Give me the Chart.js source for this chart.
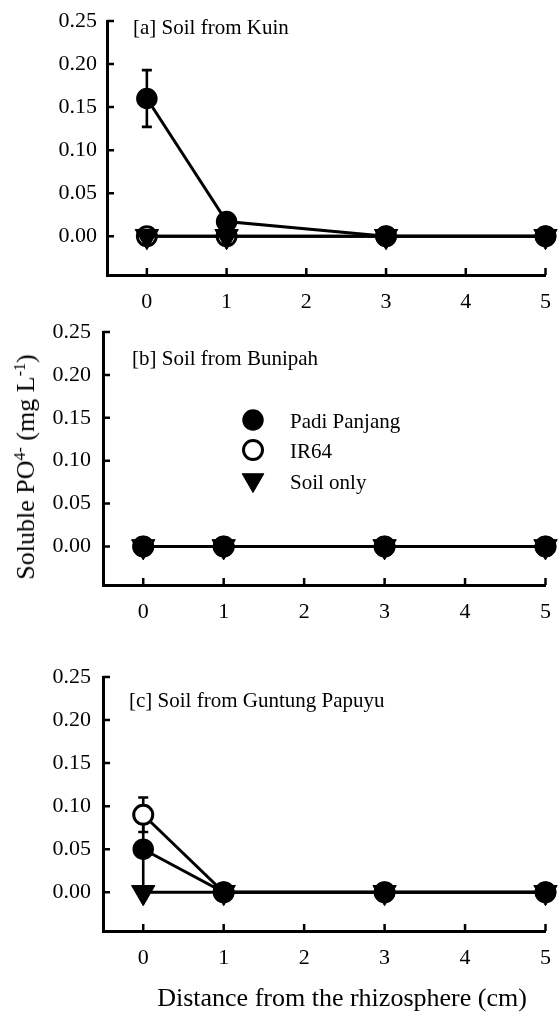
<!DOCTYPE html>
<html><head><meta charset="utf-8">
<script src="https://cdn.jsdelivr.net/npm/chart.js"></script>
<style>
html,body{margin:0;padding:0;background:#fff;}
body{width:560px;height:1012px;position:relative;overflow:hidden;font-family:"Liberation Serif","Times New Roman",serif;color:#000;}
canvas{position:absolute;left:0;}
#ytitle{position:absolute;left:26px;top:467px;transform:translate(-50%,-50%) rotate(-90deg);white-space:nowrap;font-size:26px;line-height:1;}
#xtitle{position:absolute;left:342px;top:998px;transform:translate(-50%,-50%);white-space:nowrap;font-size:26px;line-height:1;}
sup{font-size:0.62em;vertical-align:0.55em;line-height:0;}
</style></head>
<body>
<canvas id="cA" width="560" height="330" style="top:0px"></canvas>
<canvas id="cB" width="560" height="330" style="top:310px"></canvas>
<canvas id="cC" width="560" height="330" style="top:655px"></canvas>
<div id="ytitle">Soluble PO<sup>4-</sup> (mg L<sup>-1</sup>)</div>
<div id="xtitle">Distance from the rhizosphere (cm)</div>
<script>
// ---- data ----
const xValues = [0, 1, 3, 5];
const xTickValues = [0, 1, 2, 3, 4, 5];
const xTickLabels = ['0', '1', '2', '3', '4', '5'];
const yTickValues = [0, 0.05, 0.10, 0.15, 0.20, 0.25];
const yTickLabels = ['0.00', '0.05', '0.10', '0.15', '0.20', '0.25'];
const seriesNames = ['Padi Panjang', 'IR64', 'Soil only'];
const panelTitles = ['[a] Soil from Kuin', '[b] Soil from Bunipah', '[c] Soil from Guntung Papuyu'];

const kuinPadi = [0.160, 0.017, 0, 0];
const kuinPadiErr = [0.033, 0, 0, 0];
const kuinIR64 = [0, 0, 0, 0];
const kuinIR64Err = [0, 0, 0, 0];
const kuinSoil = [0, 0, 0, 0];
const kuinSoilErr = [0, 0, 0, 0];

const bunipahPadi = [0, 0, 0, 0];
const bunipahPadiErr = [0, 0, 0, 0];
const bunipahIR64 = [0, 0, 0, 0];
const bunipahIR64Err = [0, 0, 0, 0];
const bunipahSoil = [0, 0, 0, 0];
const bunipahSoilErr = [0, 0, 0, 0];

const guntungPadi = [0.050, 0, 0, 0];
const guntungPadiErr = [0.050, 0, 0, 0];
const guntungIR64 = [0.090, 0, 0, 0];
const guntungIR64Err = [0.020, 0, 0, 0];
const guntungSoil = [0, 0, 0, 0];
const guntungSoilErr = [0, 0, 0, 0];

// ---- styles / layout ----
const FONT = '"Liberation Serif", "Times New Roman", serif';
const markerStyles = [
  {pointStyle: 'circle', radius: 10, rotation: 0, fill: '#000', bw: 1.5, order: 2},
  {pointStyle: 'circle', radius: 9.5, rotation: 0, fill: '#fff', bw: 3, order: 3},
  {pointStyle: 'triangle', radius: 13.5, rotation: 180, fill: '#000', bw: 1, order: 1}
];
const legendMarkerRadius = [10, 9.5, 12.5];
const CANVAS_H = 330, YW = 80, XH = 45;

function drawMarker(ctx, st, r, x, y) {
  ctx.save();
  ctx.fillStyle = st.fill; ctx.strokeStyle = '#000'; ctx.lineWidth = st.bw;
  ctx.beginPath();
  if (st.pointStyle === 'circle') {
    ctx.arc(x, y, r, 0, Math.PI * 2);
  } else {
    for (let k = 0; k < 3; k++) {
      const a = (st.rotation * Math.PI / 180) - Math.PI / 2 + k * 2 * Math.PI / 3;
      const px = x + Math.cos(a) * r, py = y + Math.sin(a) * r;
      if (k === 0) ctx.moveTo(px, py); else ctx.lineTo(px, py);
    }
    ctx.closePath();
  }
  ctx.fill(); ctx.stroke();
  ctx.restore();
}

const extrasPlugin = {
  id: 'panelExtras',
  beforeDatasetsDraw(chart) {
    const ctx = chart.ctx, xs = chart.scales.x, ys = chart.scales.y;
    ctx.save();
    ctx.strokeStyle = '#000'; ctx.lineWidth = 2.6;
    chart.data.datasets.forEach(ds => {
      (ds.errors || []).forEach((e, j) => {
        if (!e) return;
        const v = ds.data[j].y;
        const px = xs.getPixelForValue(ds.data[j].x);
        const pTop = ys.getPixelForValue(v + e), pBot = ys.getPixelForValue(v - e);
        ctx.beginPath();
        ctx.moveTo(px, pTop); ctx.lineTo(px, pBot);
        ctx.moveTo(px - 5, pTop); ctx.lineTo(px + 5, pTop);
        ctx.moveTo(px - 5, pBot); ctx.lineTo(px + 5, pBot);
        ctx.stroke();
      });
    });
    ctx.restore();
  },
  afterDraw(chart) {
    const ctx = chart.ctx, xs = chart.scales.x, ys = chart.scales.y, a = chart.chartArea;
    const cfg = chart.options.plugins.panelExtras;
    ctx.save();
    ctx.strokeStyle = '#000'; ctx.lineWidth = 2.5;
    ctx.beginPath();
    yTickValues.forEach(v => { const p = ys.getPixelForValue(v); ctx.moveTo(a.left, p); ctx.lineTo(a.left + 7, p); });
    xTickValues.forEach(v => { const p = xs.getPixelForValue(v); ctx.moveTo(p, a.bottom); ctx.lineTo(p, a.bottom - 7); });
    ctx.stroke();
    ctx.fillStyle = '#000';
    ctx.font = '21px ' + FONT;
    ctx.textAlign = 'left'; ctx.textBaseline = 'alphabetic';
    ctx.fillText(cfg.title, a.left + cfg.titleX, a.top + cfg.titleBase);
    if (cfg.legend) {
      ctx.textBaseline = 'middle';
      cfg.legendRows.forEach((ry, i) => {
        drawMarker(ctx, markerStyles[i], legendMarkerRadius[i], a.left + cfg.legendX, a.top + ry);
        ctx.fillStyle = '#000';
        ctx.fillText(seriesNames[i], a.left + cfg.legendTextX, a.top + cfg.legendTextRows[i]);
      });
    }
    ctx.restore();
  }
};

function makePanel(cfg, title, values, errors) {
  const datasets = values.map((vals, i) => {
    const st = markerStyles[i];
    return {
      label: seriesNames[i],
      data: xValues.map((x, j) => ({x: x, y: vals[j]})),
      errors: errors[i],
      borderColor: '#000', borderWidth: 3, tension: 0, fill: false,
      pointStyle: st.pointStyle, pointRadius: st.radius, pointRotation: st.rotation,
      pointBackgroundColor: st.fill, pointBorderColor: '#000', pointBorderWidth: st.bw,
      order: st.order, clip: false
    };
  });
  return new Chart(document.getElementById(cfg.canvas), {
    type: 'line',
    data: {datasets},
    options: {
      responsive: false, animation: false, events: [],
      layout: {padding: {left: cfg.left - YW, top: cfg.top, right: 560 - cfg.right, bottom: CANVAS_H - cfg.bottom - XH}},
      plugins: {
        legend: {display: false}, tooltip: {enabled: false},
        panelExtras: Object.assign({title: title}, cfg)
      },
      scales: {
        x: {
          type: 'linear', min: -0.5, max: 5,
          grid: {display: false, drawTicks: false},
          border: {display: true, color: '#000', width: 3},
          ticks: {autoSkip: false, maxRotation: 0, padding: 14, color: '#000', font: {family: FONT, size: 22},
                  callback: (v, i) => xTickLabels[i]},
          afterBuildTicks: s => { s.ticks = xTickValues.map(v => ({value: v})); },
          afterFit: s => { s.height = XH; s.paddingLeft = 0; s.paddingRight = 0; }
        },
        y: {
          type: 'linear', min: -0.045, max: 0.25,
          grid: {display: false, drawTicks: false},
          border: {display: true, color: '#000', width: 3},
          ticks: {autoSkip: false, padding: cfg.tickPadY, color: '#000', font: {family: FONT, size: 22},
                  callback: (v, i) => yTickLabels[i]},
          afterBuildTicks: s => { s.ticks = yTickValues.map(v => ({value: v})); },
          afterFit: s => { s.width = YW; s.paddingTop = 0; s.paddingBottom = 0; }
        }
      }
    },
    plugins: [extrasPlugin]
  });
}

makePanel({canvas: 'cA', left: 107, top: 21, right: 554, bottom: 275, tickPadY: 10, titleX: 26, titleBase: 12.5, legend: false},
  panelTitles[0], [kuinPadi, kuinIR64, kuinSoil], [kuinPadiErr, kuinIR64Err, kuinSoilErr]);
makePanel({canvas: 'cB', left: 103, top: 22, right: 549, bottom: 275, tickPadY: 12, titleX: 29, titleBase: 33,
  legend: true, legendX: 150, legendRows: [88, 118, 148], legendTextX: 187, legendTextRows: [90, 120, 151]},
  panelTitles[1], [bunipahPadi, bunipahIR64, bunipahSoil], [bunipahPadiErr, bunipahIR64Err, bunipahSoilErr]);
makePanel({canvas: 'cC', left: 103, top: 22, right: 550, bottom: 276, tickPadY: 12, titleX: 26, titleBase: 30, legend: false},
  panelTitles[2], [guntungPadi, guntungIR64, guntungSoil], [guntungPadiErr, guntungIR64Err, guntungSoilErr]);
</script>
</body></html>
